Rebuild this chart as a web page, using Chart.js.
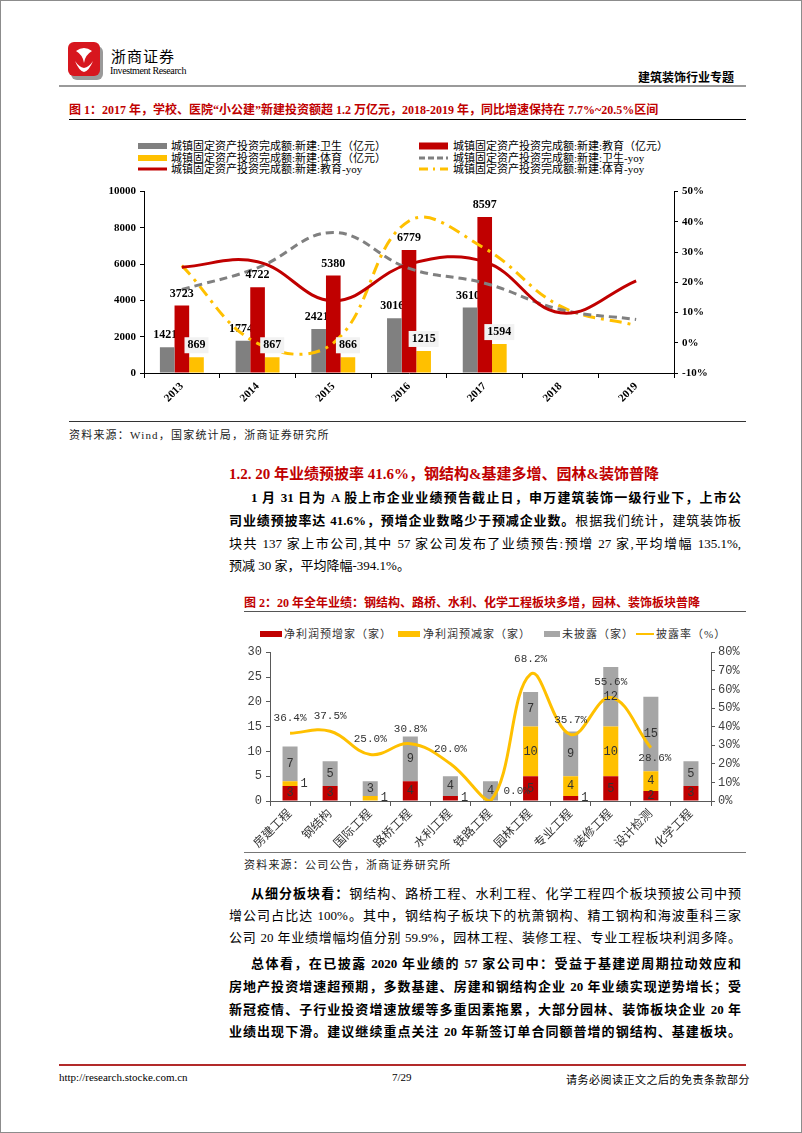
<!DOCTYPE html>
<html>
<head>
<meta charset="utf-8">
<script src="https://cdn.jsdelivr.net/npm/chart.js@4.4.1/dist/chart.umd.min.js"></script>
<style>
html, body { margin: 0; padding: 0; background: #fff; }
#page { position: relative; width: 800px; height: 1131px; border: 1px solid #8c8c8c; overflow: hidden;
        font-family: 'Liberation Serif', 'Noto Sans CJK SC', serif; color: #000; }
.abs { position: absolute; }
.hline { position: absolute; height: 0; }
.ln { position: absolute; left: 228px; width: 512px; font-size: 13px; line-height: 16px; height: 16px;
      text-align: justify; text-align-last: justify; overflow: hidden; }
.ln.last { text-align-last: left; }
.b { font-weight: bold; }
.red { color: #c00000; }
.lg1 { position: absolute; font-size: 11px; line-height: 12px; white-space: nowrap; }
.lg2 { position: absolute; font-size: 11px; line-height: 12px; white-space: nowrap; letter-spacing: 1px; color: #333; }
.src { position: absolute; font-size: 11px; letter-spacing: 1.2px; color: #222; white-space: nowrap; }
</style>
</head>
<body>
<div id="page">
  <!-- header -->
  <svg class="abs" style="left:66px;top:40px" width="38" height="40" viewBox="0 0 38 40">
    <rect x="4" y="5" width="32" height="34" rx="6" fill="#9a9a9a"/>
    <rect x="1" y="1" width="32" height="34" rx="6" fill="#d7161e"/>
    <path d="M9 10 Q17 4 25 10 Q18 14 17 22 Q16 14 9 10Z" fill="#fff"/>
    <path d="M8 20 Q12 30 17 31 Q22 30 26 20 Q22 26 17 27 Q12 26 8 20Z" fill="#fff"/>
  </svg>
  <div class="abs" style="left:110px;top:44px;font-size:15px;letter-spacing:1px">浙商证券</div>
  <div class="abs" style="left:109px;top:64px;font-size:10px;letter-spacing:-0.4px">Investment Research</div>
  <div class="abs b" style="left:637px;top:67px;font-size:12px">建筑装饰行业专题</div>
  <div class="hline" style="left:58px;top:84px;width:687px;border-top:2px solid #9a9a9a"></div>

  <!-- figure 1 -->
  <div class="abs b red" style="left:68px;top:99px;font-size:12px;white-space:nowrap">图 1：2017 年，学校、医院“小公建”新建投资额超 1.2 万亿元，2018-2019 年，同比增速保持在 7.7%~20.5%区间</div>
  <div class="hline" style="left:68px;top:118px;width:677px;border-top:1px solid #000"></div>
  <div id="legend1"></div>
  <div class="abs" style="left:90px;top:180px;width:630px;height:238px"><canvas id="chart1"></canvas></div>
  <div class="hline" style="left:68px;top:420px;width:677px;border-top:1px solid #333"></div>
  <div class="src" style="left:68px;top:425px">资料来源：Wind，国家统计局，浙商证券研究所</div>

  <!-- section -->
  <div class="abs b red" style="left:228px;top:461px;font-size:15px;white-space:nowrap">1.2. 20 年业绩预披率 41.6%，钢结构&amp;基建多增、园林&amp;装饰普降</div>
  <div class="ln b" style="top:489px;left:250px;width:490px">1 月 31 日为 A 股上市企业业绩预告截止日，申万建筑装饰一级行业下，上市公</div>
  <div class="ln" style="top:512px"><span class="b">司业绩预披率达 41.6%，预增企业数略少于预减企业数。</span>根据我们统计，建筑装饰板</div>
  <div class="ln" style="top:535px">块共 137 家上市公司,其中 57 家公司发布了业绩预告:预增 27 家,平均增幅 135.1%,</div>
  <div class="ln last" style="top:557px">预减 30 家，平均降幅-394.1%。</div>

  <!-- figure 2 -->
  <div class="abs b red" style="left:243px;top:592px;font-size:12px;white-space:nowrap">图 2：20 年全年业绩：钢结构、路桥、水利、化学工程板块多增，园林、装饰板块普降</div>
  <div class="hline" style="left:243px;top:610px;width:502px;border-top:1px solid #555"></div>
  <div id="legend2"></div>
  <div class="abs" style="left:225px;top:640px;width:535px;height:210px"><canvas id="chart2"></canvas></div>
  <div class="hline" style="left:243px;top:851px;width:502px;border-top:1px solid #777"></div>
  <div class="src" style="left:243px;top:855px">资料来源：公司公告，浙商证券研究所</div>

  <div class="ln" style="top:885px;left:250px;width:490px"><span class="b">从细分板块看：</span>钢结构、路桥工程、水利工程、化学工程四个板块预披公司中预</div>
  <div class="ln" style="top:907px">增公司占比达 100%。其中，钢结构子板块下的杭萧钢构、精工钢构和海波重科三家</div>
  <div class="ln" style="top:929px">公司 20 年业绩增幅均值分别 59.9%，园林工程、装修工程、专业工程板块利润多降。</div>

  <div class="ln b" style="top:955px;left:250px;width:490px">总体看，在已披露 2020 年业绩的 57 家公司中：受益于基建逆周期拉动效应和</div>
  <div class="ln b" style="top:978px">房地产投资增速超预期，多数基建、房建和钢结构企业 20 年业绩实现逆势增长；受</div>
  <div class="ln b" style="top:1001px">新冠疫情、子行业投资增速放缓等多重因素拖累，大部分园林、装饰板块企业 20 年</div>
  <div class="ln b" style="top:1023px">业绩出现下滑。建议继续重点关注 20 年新签订单合同额普增的钢结构、基建板块。</div>

  <!-- footer -->
  <div class="hline" style="left:58px;top:1063px;width:687px;border-top:2px solid #b22a2a"></div>
  <div class="abs" style="left:58px;top:1070px;font-size:11px">http://research.stocke.com.cn</div>
  <div class="abs" style="left:391px;top:1070px;font-size:11px">7/29</div>
  <div class="abs" style="left:565px;top:1070px;font-size:11px;letter-spacing:0.5px">请务必阅读正文之后的免责条款部分</div>
</div>

<script>
// ---- 图1 数据 ----
const years = ['2013', '2014', '2015', '2016', '2017', '2018', '2019'];
const healthInv = [1421, 1774, 2421, 3016, 3610, null, null];
const eduInv = [3723, 4722, 5380, 6779, 8597, null, null];
const sportInv = [869, 867, 866, 1215, 1594, null, null];
const healthYoy = [17.6, 24.8, 36.5, 24.6, 19.7, 11.0, 7.7];
const eduYoy = [25.0, 26.8, 13.9, 26.0, 26.8, 9.9, 20.5];
const sportYoy = [25.5, -0.2, -0.1, 40.3, 31.2, 12.1, 5.7];
const names1 = [
    '城镇固定资产投资完成额:新建:卫生（亿元）',
    '城镇固定资产投资完成额:新建:教育（亿元）',
    '城镇固定资产投资完成额:新建:体育（亿元）',
    '城镇固定资产投资完成额:新建:卫生-yoy',
    '城镇固定资产投资完成额:新建:教育-yoy',
    '城镇固定资产投资完成额:新建:体育-yoy'
];
const leftRange1 = [0, 10000, 2000];
const rightRange1 = [-10, 50, 10];

// ---- 图2 数据 ----
const sectors = ['房建工程', '钢结构', '国际工程', '路桥工程', '水利工程', '铁路工程', '园林工程', '专业工程', '装修工程', '设计检测', '化学工程'];
const upCount = [3, 3, 0, 4, 1, 0, 5, 1, 5, 2, 3];
const downCount = [1, 0, 1, 0, 0, 0, 10, 4, 10, 4, 0];
const undisclosed = [7, 5, 3, 9, 4, 4, 7, 9, 12, 15, 5];
const discloseRate = [36.4, 37.5, 25.0, 30.8, 20.0, 0.0, 68.2, 35.7, 55.6, 28.6, null];
const names2 = ['净利润预增家（家）', '净利润预减家（家）', '未披露（家）', '披露率（%）'];
const leftRange2 = [0, 30, 5];
const rightRange2 = [0, 80, 10];

const RED = '#c00000', YEL = '#ffc000', GRY = '#808080', GRY2 = '#a6a6a6';
const serif = "'Liberation Serif', 'Noto Sans CJK SC', serif";
const mono = "'Liberation Mono', 'Noto Sans CJK SC', monospace";

// 图例1（两列）
(function () {
    const box = document.getElementById('legend1');
    const rows = [145, 157, 168];
    const cols = [[137, 170], [418, 452]];
    const swatch = [
        '<rect x="0" y="3" width="29" height="6" fill="' + GRY + '"/>',
        '<rect x="0" y="2.5" width="29" height="7" fill="' + RED + '"/>',
        '<rect x="0" y="3" width="29" height="6" fill="' + YEL + '"/>',
        '<line x1="0" y1="6" x2="29" y2="6" stroke="' + GRY + '" stroke-width="3" stroke-dasharray="6,3"/>',
        '<line x1="0" y1="6" x2="29" y2="6" stroke="' + RED + '" stroke-width="3"/>',
        '<line x1="0" y1="6" x2="29" y2="6" stroke="' + YEL + '" stroke-width="3" stroke-dasharray="9,5,2,5"/>'
    ];
    let html = '';
    names1.forEach((n, i) => {
        const r = Math.floor(i / 2), c = i % 2;
        const y = rows[r] - 6;
        html += '<svg class="abs" style="left:' + cols[c][0] + 'px;top:' + y + 'px" width="30" height="12">' + swatch[i] + '</svg>';
        html += '<div class="lg1" style="left:' + cols[c][1] + 'px;top:' + y + 'px">' + n + '</div>';
    });
    box.innerHTML = html;
})();

// 图例2
(function () {
    const box = document.getElementById('legend2');
    const items = [[259, 283, 'rect', RED, 22], [397, 422, 'rect', YEL, 22], [543, 561, 'rect', GRY2, 16], [635, 655, 'line', YEL, 18]];
    let html = '';
    items.forEach((it, i) => {
        const sw = it[2] === 'rect'
            ? '<rect x="0" y="3" width="' + it[4] + '" height="6" fill="' + it[3] + '"/>'
            : '<line x1="0" y1="6" x2="' + it[4] + '" y2="6" stroke="' + it[3] + '" stroke-width="2"/>';
        html += '<svg class="abs" style="left:' + it[0] + 'px;top:627px" width="' + it[4] + '" height="12">' + sw + '</svg>';
        html += '<div class="lg2" style="left:' + it[1] + 'px;top:627px">' + names2[i] + '</div>';
    });
    box.innerHTML = html;
})();

// 柱形数值标签（图1）
function drawBarLabels(chart, di) {
    const ctx = chart.ctx;
    const ds = chart.data.datasets[di];
    ctx.save();
    ctx.font = 'bold 12px ' + serif;
    ctx.textAlign = 'center';
    ctx.textBaseline = 'middle';
    chart.getDatasetMeta(di).data.forEach((bar, i) => {
        const v = ds.data[i];
        if (v == null) return;
        const txt = String(v);
        const x = bar.x + (di === 0 ? -2 : 0);
        const y = bar.y - 12;
        if (di === 2) {
            const w = ctx.measureText(txt).width + 6;
            ctx.fillStyle = '#f2f2f2';
            ctx.fillRect(x - w / 2, y - 8, w, 16);
        }
        ctx.fillStyle = '#000';
        ctx.fillText(txt, x, y);
    });
    ctx.restore();
}
const barLabels1 = {
    id: 'barLabels1',
    // 卫生的标签画在教育柱之前，被红柱部分遮住
    beforeDatasetDraw(chart, args) {
        if (args.index === 1) drawBarLabels(chart, 0);
    },
    afterDatasetsDraw(chart) {
        drawBarLabels(chart, 1);
        drawBarLabels(chart, 2);
    }
};

new Chart(document.getElementById('chart1'), {
    type: 'bar',
    data: {
        labels: years,
        datasets: [
            { label: names1[0], data: healthInv, backgroundColor: GRY, yAxisID: 'y', order: 2 },
            { label: names1[1], data: eduInv, backgroundColor: RED, yAxisID: 'y', order: 2 },
            { label: names1[2], data: sportInv, backgroundColor: YEL, yAxisID: 'y', order: 2 },
            { type: 'line', label: names1[3], data: healthYoy, borderColor: GRY, borderWidth: 3, borderDash: [8, 5],
              pointRadius: 0, tension: 0.4, yAxisID: 'y1', order: 1 },
            { type: 'line', label: names1[4], data: eduYoy, borderColor: RED, borderWidth: 3,
              pointRadius: 0, tension: 0.4, yAxisID: 'y1', order: 0 },
            { type: 'line', label: names1[5], data: sportYoy, borderColor: YEL, borderWidth: 3, borderDash: [12, 6, 3, 6],
              pointRadius: 0, tension: 0.4, yAxisID: 'y1', order: 1 }
        ]
    },
    options: {
        responsive: true,
        maintainAspectRatio: false,
        animation: false,
        datasets: { bar: { categoryPercentage: 0.58, barPercentage: 1.0 } },
        layout: { padding: { top: 10, left: 0, right: 0, bottom: 0 } },
        plugins: { legend: { display: false }, tooltip: { enabled: false } },
        scales: {
            x: {
                afterFit: s => { s.height = 46; },
                grid: { display: true, drawOnChartArea: false, offset: true, tickLength: 5, color: '#000' },
                border: { color: '#000' },
                ticks: { color: '#000', font: { family: serif, size: 11, weight: 'bold' }, minRotation: 45, maxRotation: 45, padding: 2 }
            },
            y: {
                position: 'left',
                min: leftRange1[0], max: leftRange1[1],
                afterFit: s => { s.width = 53; },
                grid: { drawOnChartArea: false, tickLength: 4, color: '#000' },
                border: { color: '#000' },
                ticks: { stepSize: leftRange1[2], color: '#000', font: { family: serif, size: 11, weight: 'bold' }, padding: 4,
                         callback: v => String(v) }
            },
            y1: {
                position: 'right',
                min: rightRange1[0], max: rightRange1[1],
                afterFit: s => { s.width = 47; },
                grid: { drawOnChartArea: false, tickLength: 4, color: '#000' },
                border: { color: '#000' },
                ticks: { stepSize: rightRange1[2], color: '#000', font: { family: serif, size: 11, weight: 'bold' }, padding: 4,
                         callback: v => v + '%' }
            }
        }
    },
    plugins: [barLabels1]
});

// 标签（图2）
const labels2 = {
    id: 'labels2',
    afterDatasetsDraw(chart) {
        const ctx = chart.ctx;
        ctx.save();
        ctx.font = '12px ' + mono;
        ctx.textBaseline = 'middle';
        ctx.fillStyle = '#333';
        [0, 1, 2].forEach(di => {
            const ds = chart.data.datasets[di];
            chart.getDatasetMeta(di).data.forEach((bar, i) => {
                const v = ds.data[i];
                if (!v) return;
                const cy = (bar.y + bar.base) / 2;
                if (v < 2) {
                    ctx.textAlign = 'left';
                    ctx.fillText(String(v), bar.x + bar.width / 2 + 3, cy);
                } else {
                    ctx.textAlign = 'center';
                    ctx.fillText(String(v), bar.x, cy);
                }
            });
        });
        const meta = chart.getDatasetMeta(3);
        const vals = chart.data.datasets[3].data;
        const lastIdx = vals.reduce((a, v, i) => (v != null ? i : a), -1);
        ctx.font = '11px ' + mono;
        meta.data.forEach((pt, i) => {
            const v = vals[i];
            if (v == null) return;
            const txt = v.toFixed(1) + '%';
            if (v === 0) {
                ctx.textAlign = 'left';
                ctx.fillText(txt, pt.x + 13, pt.y - 10);
            } else if (i === lastIdx) {
                ctx.textAlign = 'center';
                ctx.fillText(txt, pt.x + 4, pt.y + 10);
            } else {
                ctx.textAlign = 'center';
                ctx.fillText(txt, pt.x, pt.y - 15);
            }
        });
        ctx.restore();
    }
};

new Chart(document.getElementById('chart2'), {
    type: 'bar',
    data: {
        labels: sectors,
        datasets: [
            { label: names2[0], data: upCount, backgroundColor: RED, stack: 's', yAxisID: 'y', order: 2 },
            { label: names2[1], data: downCount, backgroundColor: YEL, stack: 's', yAxisID: 'y', order: 2 },
            { label: names2[2], data: undisclosed, backgroundColor: GRY2, stack: 's', yAxisID: 'y', order: 2 },
            { type: 'line', label: names2[3], data: discloseRate, borderColor: YEL, borderWidth: 3,
              pointRadius: 0, tension: 0.4, yAxisID: 'y1', order: 1 }
        ]
    },
    options: {
        responsive: true,
        maintainAspectRatio: false,
        animation: false,
        datasets: { bar: { categoryPercentage: 0.75, barPercentage: 0.5 } },
        layout: { padding: { top: 7, left: 0, right: 0, bottom: 0 } },
        plugins: { legend: { display: false }, tooltip: { enabled: false } },
        scales: {
            x: {
                stacked: true,
                afterFit: s => { s.height = 50; },
                grid: { display: true, drawOnChartArea: false, offset: true, tickLength: 5, color: '#595959' },
                border: { color: '#595959' },
                ticks: { color: '#333', font: { family: serif, size: 12 }, minRotation: 45, maxRotation: 45, padding: 1 }
            },
            y: {
                stacked: true,
                position: 'left',
                min: leftRange2[0], max: leftRange2[1],
                afterFit: s => { s.width = 44; },
                grid: { drawOnChartArea: false, tickLength: 4, color: '#595959' },
                border: { color: '#595959' },
                ticks: { stepSize: leftRange2[2], color: '#404040', font: { family: mono, size: 12 }, padding: 4 }
            },
            y1: {
                position: 'right',
                min: rightRange2[0], max: rightRange2[1],
                afterFit: s => { s.width = 50; },
                grid: { drawOnChartArea: false, tickLength: 4, color: '#595959' },
                border: { color: '#595959' },
                ticks: { stepSize: rightRange2[2], color: '#404040', font: { family: mono, size: 12 }, padding: 3,
                         callback: v => v + '%' }
            }
        }
    },
    plugins: [labels2]
});
</script>
</body>
</html>
